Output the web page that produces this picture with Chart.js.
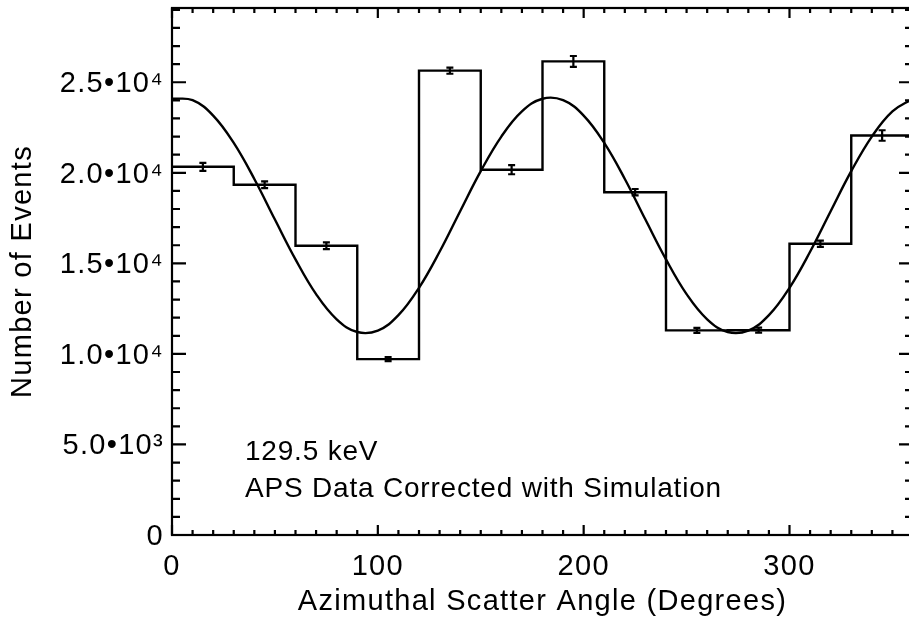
<!DOCTYPE html>
<html>
<head>
<meta charset="utf-8">
<script src="https://cdn.jsdelivr.net/npm/chart.js@4/dist/chart.umd.min.js"></script>
<style>
  html, body { margin: 0; padding: 0; background: #fff; overflow: hidden; }
  #wrap { width: 930px; height: 620px; }
</style>
</head>
<body>
<div id="wrap"><canvas id="azimuth" width="930" height="620"></canvas></div>
<script>
// histogram bins (degrees), 30 degree wide
const binEdges = [0, 30, 60, 90, 120, 150, 180, 210, 240, 270, 300, 330, 360];
const binCenters = [15, 45, 75, 105, 135, 165, 195, 225, 255, 285, 315, 345];
const binCounts = [20330, 19340, 15970, 9710, 25640, 20170, 26150, 18930, 11300, 11310, 16080, 22060];
const binErrors = [220, 190, 190, 110, 170, 250, 300, 175, 140, 140, 175, 290];

// fitted modulation curve
const fitAngles = [0, 10, 20, 30, 40, 50, 60, 70, 80, 90, 100, 110, 120, 130, 140, 150, 160, 170, 180,
  190, 200, 210, 220, 230, 240, 250, 260, 270, 280, 290, 300, 310, 320, 330, 340, 350, 360];
const fitCounts = [24090, 24010, 23160, 21650, 19660, 17420, 15220, 13300, 11910, 11210, 11290, 12140, 13650,
  15640, 17880, 20090, 22000, 23390, 24090, 24010, 23160, 21650, 19660, 17420, 15220, 13300, 11910, 11210,
  11290, 12140, 13650, 15640, 17880, 20090, 22000, 23390, 24090];

const xTicks = [0, 100, 200, 300];
const yTicks = [0, 5000, 10000, 15000, 20000, 25000];
const noteLines = ["129.5 keV", "APS Data Corrected with Simulation"];

const FONT = "Liberation Sans, Arial, Helvetica, sans-serif";
const SUP = { "0": "\u2070", "1": "\u00b9", "2": "\u00b2", "3": "\u00b3", "4": "\u2074", "5": "\u2075",
  "6": "\u2076", "7": "\u2077", "8": "\u2078", "9": "\u2079" };

function sciLabel(v) {
  if (v === 0) return "0";
  const exp = Math.floor(Math.log10(v));
  const mant = (v / Math.pow(10, exp)).toFixed(1);
  return mant + "\u202210" + String(exp).split("").map((d) => SUP[d]).join("");
}

// slightly wider letter spacing like the original plot fonts
const spacing = {
  id: "spacing",
  beforeDraw(chart) {
    chart.ctx.letterSpacing = "1.3px";
  },
};

// error bars on the bin centres
const errorBars = {
  id: "errorBars",
  afterDatasetsDraw(chart) {
    const ctx = chart.ctx;
    const xs = chart.scales.x;
    const ys = chart.scales.y;
    ctx.save();
    ctx.strokeStyle = "#000";
    ctx.lineWidth = 2.2;
    binCenters.forEach((c, i) => {
      const px = xs.getPixelForValue(c);
      const top = ys.getPixelForValue(binCounts[i] + binErrors[i]);
      const bot = ys.getPixelForValue(binCounts[i] - binErrors[i]);
      ctx.beginPath();
      ctx.moveTo(px, top);
      ctx.lineTo(px, bot);
      ctx.moveTo(px - 3.5, top);
      ctx.lineTo(px + 3.5, top);
      ctx.moveTo(px - 3.5, bot);
      ctx.lineTo(px + 3.5, bot);
      ctx.stroke();
    });
    ctx.restore();
  },
};

// box with inward ticks on all four sides, plus the note text
const frameAndNote = {
  id: "frameAndNote",
  afterDraw(chart) {
    const ctx = chart.ctx;
    const a = chart.chartArea;
    const xs = chart.scales.x;
    const ys = chart.scales.y;
    ctx.save();
    ctx.strokeStyle = "#000";
    ctx.lineWidth = 2.2;
    ctx.strokeRect(a.left, a.top, a.right - a.left, a.bottom - a.top);
    ctx.beginPath();
    for (let d = 0; d <= 360; d += 10) {
      const px = xs.getPixelForValue(d);
      const len = d % 100 === 0 ? 10 : 5;
      ctx.moveTo(px, a.bottom);
      ctx.lineTo(px, a.bottom - len);
      ctx.moveTo(px, a.top);
      ctx.lineTo(px, a.top + len);
    }
    for (let v = 0; v <= 29000; v += 1000) {
      const py = ys.getPixelForValue(v);
      const len = v % 5000 === 0 ? 14 : 8;
      ctx.moveTo(a.left, py);
      ctx.lineTo(a.left + len, py);
      ctx.moveTo(a.right, py);
      ctx.lineTo(a.right - len, py);
    }
    ctx.stroke();

    ctx.fillStyle = "#000";
    ctx.font = "28px " + FONT;
    ctx.letterSpacing = "0.8px";
    ctx.textAlign = "left";
    ctx.textBaseline = "alphabetic";
    ctx.fillText(noteLines[0], a.left + 73, 460);
    ctx.fillText(noteLines[1], a.left + 73, 497);
    ctx.restore();
  },
};

const histData = binEdges.map((x, i) => ({ x: x, y: binCounts[Math.min(i, binCounts.length - 1)] }));
const fitData = fitAngles.map((x, i) => ({ x: x, y: fitCounts[i] }));

new Chart(document.getElementById("azimuth"), {
  type: "line",
  data: {
    datasets: [
      {
        label: "Counts",
        data: histData,
        stepped: "before",
        borderColor: "#000",
        borderWidth: 2.4,
        pointRadius: 0,
        fill: false,
      },
      {
        label: "Fit",
        data: fitData,
        borderColor: "#000",
        borderWidth: 2.4,
        pointRadius: 0,
        tension: 0.4,
        fill: false,
      },
    ],
  },
  options: {
    responsive: false,
    animation: false,
    layout: { padding: { top: 8, right: 17, bottom: 0, left: 0 } },
    scales: {
      x: {
        type: "linear",
        min: 0,
        max: 360,
        afterBuildTicks: (scale) => { scale.ticks = xTicks.map((v) => ({ value: v })); },
        afterFit: (scale) => {
          scale.height = 85;
          scale.paddingLeft = 0;
          scale.paddingRight = 0;
        },
        grid: { display: false, drawTicks: false },
        border: { display: false },
        ticks: { color: "#000", padding: 15, font: { size: 29, family: FONT } },
        title: {
          display: true,
          text: "Azimuthal Scatter Angle (Degrees)",
          color: "#000",
          font: { size: 29, family: FONT },
          padding: { top: 0, bottom: 1 },
        },
      },
      y: {
        type: "linear",
        min: 0,
        max: 29100,
        afterBuildTicks: (scale) => { scale.ticks = yTicks.map((v) => ({ value: v })); },
        afterFit: (scale) => {
          scale.width = 172;
          scale.paddingTop = 0;
          scale.paddingBottom = 0;
        },
        grid: { display: false, drawTicks: false },
        border: { display: false },
        ticks: {
          color: "#000",
          padding: 8,
          labelOffset: 2,
          font: { size: 29, family: FONT },
          callback: (v) => sciLabel(v),
        },
        title: {
          display: true,
          text: "Number of Events",
          color: "#000",
          font: { size: 29, family: FONT },
          padding: { top: 6, bottom: 0 },
        },
      },
    },
    plugins: {
      legend: { display: false },
      tooltip: { enabled: false },
    },
  },
  plugins: [spacing, errorBars, frameAndNote],
});
</script>
</body>
</html>
